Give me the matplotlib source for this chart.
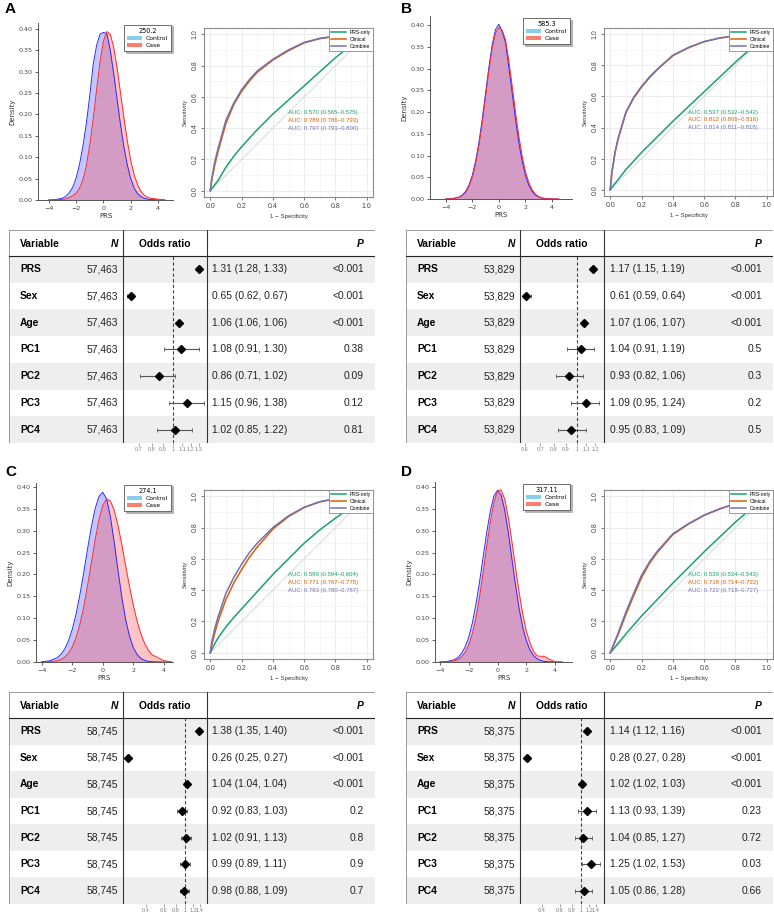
import matplotlib
matplotlib.use("Agg")
import matplotlib.pyplot as plt
import numpy as np
from matplotlib.patches import Patch
from matplotlib.ticker import FixedLocator, FixedFormatter, NullLocator, FormatStrFormatter

W, H = 774, 913

# ---------------------------------------------------------------------------
# data
# ---------------------------------------------------------------------------
PHECODES = ["250.2", "585.3", "274.1", "317.11"]

PRS_GRID = [-4, -3.5, -3, -2.75, -2.5, -2.25, -2, -1.75, -1.5, -1.25, -1, -0.75,
            -0.5, -0.25, 0, 0.25, 0.5, 0.75, 1, 1.25, 1.5, 1.75, 2, 2.25, 2.5,
            2.75, 3, 3.25, 3.5, 4, 4.5]

A_CTRL = [0.0001, 0.001, 0.0045, 0.009, 0.017, 0.030, 0.052, 0.084, 0.127, 0.180, 0.245,
          0.318, 0.362, 0.388, 0.392, 0.389, 0.350, 0.296, 0.236, 0.176, 0.124, 0.082,
          0.050, 0.028, 0.015, 0.008, 0.004, 0.002, 0.001, 0.0002, 0.0]
A_CASE = [0.0, 0.0003, 0.0012, 0.003, 0.006, 0.010, 0.016, 0.028, 0.048, 0.081, 0.130,
          0.190, 0.259, 0.323, 0.372, 0.394, 0.388, 0.357, 0.309, 0.251, 0.192, 0.138,
          0.093, 0.059, 0.036, 0.020, 0.011, 0.006, 0.004, 0.002, 0.0003]
B_CTRL = [0.0001, 0.0009, 0.0045, 0.009, 0.0175, 0.032, 0.054, 0.087, 0.130, 0.184, 0.244,
          0.303, 0.355, 0.390, 0.402, 0.385, 0.360, 0.303, 0.244, 0.184, 0.130, 0.087,
          0.054, 0.032, 0.0175, 0.009, 0.0045, 0.002, 0.0009, 0.0001, 0.0]
B_CASE = [0.0001, 0.0007, 0.0035, 0.0075, 0.015, 0.028, 0.049, 0.080, 0.122, 0.174, 0.234,
          0.294, 0.347, 0.382, 0.394, 0.388, 0.366, 0.318, 0.260, 0.200, 0.145, 0.099,
          0.063, 0.038, 0.021, 0.011, 0.0055, 0.0027, 0.0012, 0.0002, 0.0]
C_CTRL = [0.0005, 0.0025, 0.0094, 0.017, 0.029, 0.048, 0.074, 0.109, 0.153, 0.203, 0.257,
          0.308, 0.350, 0.378, 0.388, 0.373, 0.332, 0.274, 0.209, 0.148, 0.097, 0.059,
          0.033, 0.017, 0.0082, 0.0036, 0.0015, 0.0006, 0.0002, 0.0, 0.0]
C_CASE = [0.0001, 0.0005, 0.0027, 0.0055, 0.0107, 0.0195, 0.034, 0.0556, 0.086, 0.125, 0.173,
          0.226, 0.279, 0.325, 0.358, 0.3726, 0.368, 0.347, 0.312, 0.268, 0.220, 0.173,
          0.130, 0.093, 0.064, 0.042, 0.026, 0.016, 0.012, 0.003, 0.0003]
D_CTRL = [0.0002, 0.0011, 0.0053, 0.0105, 0.0196, 0.0346, 0.057, 0.0895, 0.132, 0.183, 0.240,
          0.296, 0.345, 0.379, 0.392, 0.381, 0.347, 0.295, 0.235, 0.176, 0.122, 0.080,
          0.049, 0.028, 0.015, 0.0075, 0.0035, 0.0015, 0.0006, 0.0001, 0.0]
D_CASE = [0.0001, 0.0005, 0.0028, 0.0059, 0.0117, 0.022, 0.039, 0.065, 0.101, 0.148, 0.204,
          0.264, 0.320, 0.365, 0.391, 0.393, 0.372, 0.330, 0.275, 0.216, 0.159, 0.110,
          0.071, 0.044, 0.025, 0.014, 0.013, 0.013, 0.008, 0.0005, 0.0]

MODELS = ["PRS-only", "Clinical", "Combine"]
ROC_FPR = [0, 0.01, 0.03, 0.05, 0.1, 0.15, 0.2, 0.25, 0.3, 0.4, 0.5, 0.6, 0.7, 0.8, 0.9, 1.0]

A_ROC_PRS = [0, 0.013, 0.04, 0.065, 0.15, 0.22, 0.28, 0.335, 0.39, 0.49, 0.58, 0.67, 0.76, 0.85, 0.93, 1.0]
A_ROC_CLIN = [0, 0.07, 0.17, 0.25, 0.43, 0.55, 0.635, 0.70, 0.757, 0.835, 0.895, 0.945, 0.972, 0.987, 0.996, 1.0]
A_ROC_COMB = [0, 0.08, 0.19, 0.27, 0.45, 0.56, 0.645, 0.71, 0.765, 0.84, 0.90, 0.948, 0.974, 0.988, 0.996, 1.0]
B_ROC_PRS = [0, 0.015, 0.04, 0.065, 0.13, 0.185, 0.24, 0.29, 0.34, 0.44, 0.535, 0.63, 0.725, 0.82, 0.91, 1.0]
B_ROC_CLIN = [0, 0.105, 0.235, 0.325, 0.495, 0.59, 0.66, 0.72, 0.772, 0.862, 0.913, 0.952, 0.975, 0.99, 0.997, 1.0]
B_ROC_COMB = [0, 0.11, 0.24, 0.33, 0.50, 0.595, 0.665, 0.725, 0.775, 0.865, 0.915, 0.953, 0.976, 0.99, 0.997, 1.0]
C_ROC_PRS = [0, 0.02, 0.06, 0.095, 0.165, 0.225, 0.28, 0.335, 0.39, 0.50, 0.60, 0.70, 0.785, 0.86, 0.93, 1.0]
C_ROC_CLIN = [0, 0.05, 0.13, 0.20, 0.34, 0.445, 0.53, 0.61, 0.675, 0.79, 0.87, 0.928, 0.964, 0.985, 0.995, 1.0]
C_ROC_COMB = [0, 0.07, 0.16, 0.23, 0.38, 0.48, 0.565, 0.64, 0.70, 0.80, 0.875, 0.93, 0.965, 0.985, 0.995, 1.0]
D_ROC_PRS = [0, 0.012, 0.036, 0.06, 0.12, 0.178, 0.235, 0.287, 0.34, 0.445, 0.545, 0.645, 0.74, 0.835, 0.92, 1.0]
D_ROC_CLIN = [0, 0.02, 0.07, 0.115, 0.245, 0.365, 0.48, 0.57, 0.64, 0.755, 0.822, 0.878, 0.919, 0.952, 0.98, 1.0]
D_ROC_COMB = [0, 0.025, 0.075, 0.125, 0.26, 0.38, 0.495, 0.58, 0.648, 0.76, 0.825, 0.88, 0.92, 0.953, 0.98, 1.0]

# AUC (estimate, lower, upper) for PRS-only, Clinical, Combine
A_AUC = [(0.570, 0.565, 0.575), (0.789, 0.786, 0.793), (0.797, 0.793, 0.800)]
B_AUC = [(0.537, 0.532, 0.542), (0.812, 0.809, 0.816), (0.814, 0.811, 0.818)]
C_AUC = [(0.599, 0.594, 0.604), (0.771, 0.767, 0.775), (0.783, 0.780, 0.787)]
D_AUC = [(0.539, 0.534, 0.543), (0.718, 0.714, 0.722), (0.722, 0.718, 0.727)]

VARIABLES = ["PRS", "Sex", "Age", "PC1", "PC2", "PC3", "PC4"]
A_N, B_N, C_N, D_N = 57463, 53829, 58745, 58375
A_OR = [1.31, 0.65, 1.06, 1.08, 0.86, 1.15, 1.02]
A_LO = [1.28, 0.62, 1.06, 0.91, 0.71, 0.96, 0.85]
A_HI = [1.33, 0.67, 1.06, 1.30, 1.02, 1.38, 1.22]
A_P = ["<0.001", "<0.001", "<0.001", "0.38", "0.09", "0.12", "0.81"]
B_OR = [1.17, 0.61, 1.07, 1.04, 0.93, 1.09, 0.95]
B_LO = [1.15, 0.59, 1.06, 0.91, 0.82, 0.95, 0.83]
B_HI = [1.19, 0.64, 1.07, 1.19, 1.06, 1.24, 1.09]
B_P = ["<0.001", "<0.001", "<0.001", "0.5", "0.3", "0.2", "0.5"]
C_OR = [1.38, 0.26, 1.04, 0.92, 1.02, 0.99, 0.98]
C_LO = [1.35, 0.25, 1.04, 0.83, 0.91, 0.89, 0.88]
C_HI = [1.40, 0.27, 1.04, 1.03, 1.13, 1.11, 1.09]
C_P = ["<0.001", "<0.001", "<0.001", "0.2", "0.8", "0.9", "0.7"]
D_OR = [1.14, 0.28, 1.02, 1.13, 1.04, 1.25, 1.05]
D_LO = [1.12, 0.27, 1.02, 0.93, 0.85, 1.02, 0.86]
D_HI = [1.16, 0.28, 1.03, 1.39, 1.27, 1.53, 1.28]
D_P = ["<0.001", "<0.001", "<0.001", "0.23", "0.72", "0.03", "0.66"]

A_TICKS = [0.7, 0.8, 0.9, 1, 1.1, 1.2, 1.3]
B_TICKS = [0.6, 0.7, 0.8, 0.9, 1, 1.1, 1.2]
C_TICKS = [0.4, 0.6, 0.8, 1, 1.2, 1.4]
D_TICKS = [0.4, 0.6, 0.8, 1, 1.2, 1.4]

# ---------------------------------------------------------------------------
# styling
# ---------------------------------------------------------------------------
CTRL_LINE, CASE_LINE = "#2a2aff", "#ff2a2a"
LEG_CTRL, LEG_CASE = "#87ceeb", "#fa8072"
ROC_COLORS = ["#1b9e77", "#d95f02", "#7570b3"]
STRIPE = "#eeeeee"
R_FONT = "Liberation Sans"

plt.rcParams["font.family"] = R_FONT


def px_axes(fig, box):
    l, t, r, b = box
    return fig.add_axes([l / W, 1 - b / H, (r - l) / W, (b - t) / H])


def draw_density(ax, ctrl, case, title, xlim, ytop):
    ax.fill_between(PRS_GRID, ctrl, color=CTRL_LINE, alpha=0.27, lw=0)
    ax.fill_between(PRS_GRID, case, color=CASE_LINE, alpha=0.27, lw=0)
    ax.plot(PRS_GRID, ctrl, color=CTRL_LINE, lw=0.7)
    ax.plot(PRS_GRID, case, color=CASE_LINE, lw=0.7)
    ax.set_xlim(*xlim)
    ax.set_ylim(0, ytop)
    ax.set_xticks([-4, -2, 0, 2, 4])
    ax.set_yticks(np.arange(0, 0.401, 0.05))
    ax.yaxis.set_major_formatter(FormatStrFormatter("%.2f"))
    for s in ("top", "right"):
        ax.spines[s].set_visible(False)
    for s in ("left", "bottom"):
        ax.spines[s].set_color("#555555")
        ax.spines[s].set_linewidth(0.7)
    ax.tick_params(labelsize=4.6, length=2.5, width=0.6, colors="#444444", pad=1.5)
    for lab in ax.get_xticklabels() + ax.get_yticklabels():
        lab.set_family("DejaVu Sans")
    ax.set_xlabel("PRS", fontsize=5, labelpad=1.5, color="#333333", family="DejaVu Sans")
    ax.set_ylabel("Density", fontsize=5, labelpad=2, color="#333333", family="DejaVu Sans")
    handles = [Patch(facecolor=LEG_CTRL, label="Control"), Patch(facecolor=LEG_CASE, label="Case")]
    leg = ax.legend(handles=handles, title=title, loc="upper right",
                    prop={"family": "DejaVu Sans", "size": 4.4}, title_fontsize=4.7,
                    shadow={"ox": 1.2, "oy": -1.2, "color": "#b0b0b0", "alpha": 1},
                    fancybox=False, borderaxespad=0.3, framealpha=1, borderpad=0.5,
                    handlelength=2.4, handleheight=0.6, labelspacing=0.35, handletextpad=0.7)
    leg.get_title().set_family("DejaVu Sans")
    leg.get_frame().set_edgecolor("#555555")
    leg.get_frame().set_linewidth(0.6)


def draw_roc(ax, curves, aucs):
    ax.set_xlim(-0.04, 1.04)
    ax.set_ylim(-0.04, 1.04)
    ticks = np.arange(0, 1.01, 0.2)
    ax.set_xticks(ticks)
    ax.set_yticks(ticks)
    ax.set_xticks(np.arange(0.1, 1.0, 0.2), minor=True)
    ax.set_yticks(np.arange(0.1, 1.0, 0.2), minor=True)
    ax.grid(which="major", color="#e4e4e4", lw=0.5)
    ax.grid(which="minor", color="#f0f0f0", lw=0.4)
    ax.set_axisbelow(True)
    ax.tick_params(which="minor", length=0)
    ax.tick_params(which="major", labelsize=5, length=2.5, width=0.5, colors="#444444", pad=1.5)
    ax.tick_params(axis="y", labelrotation=90)
    for lab in ax.get_yticklabels():
        lab.set_va("center")
    for s in ax.spines.values():
        s.set_color("#8a8a8a")
        s.set_linewidth(0.8)
    ax.plot([0, 1], [0, 1], color="#d2d2d2", lw=0.6)
    for name, tpr, col in zip(MODELS, curves, ROC_COLORS):
        ax.plot(ROC_FPR, tpr, color=col, lw=1.1, label=name)
    leg = ax.legend(loc="upper right", fontsize=3.6, borderaxespad=0, handlelength=3,
                    framealpha=1, fancybox=False, edgecolor="#8a8a8a", labelspacing=0.4)
    leg.get_frame().set_linewidth(0.6)
    for k, ((a, lo, hi), col) in enumerate(zip(aucs, ROC_COLORS)):
        ax.text(0.5, 0.5 - 0.05 * k, f"AUC: {a:.3f} ({lo:.3f}\u2013{hi:.3f})",
                color=col, fontsize=4.3, va="center", ha="left")
    ax.set_xlabel("1 \u2212 Specificity", fontsize=4.4, labelpad=3, color="#333333")
    ax.set_ylabel("Sensitivity", fontsize=4.2, labelpad=3, color="#333333")


def draw_table(fig, box, n, ors, los, his, ps, xlim, ticks):
    l, t, r, b = box
    w, h = r - l, b - t
    head = 26.0
    rh = (h - head) / len(VARIABLES)
    col1, col2 = 113.5, 197.5
    tab = px_axes(fig, box)
    tab.set_xlim(0, w)
    tab.set_ylim(h, 0)
    tab.axis("off")
    for i in range(len(VARIABLES)):
        if i % 2 == 0:
            tab.axhspan(head + i * rh, head + (i + 1) * rh, color=STRIPE, lw=0)
    tab.plot([0, w], [0, 0], color="#9a9a9a", lw=0.7)
    tab.plot([0, w], [h, h], color="#9a9a9a", lw=0.7)
    tab.plot([0, 0], [0, h], color="#9a9a9a", lw=0.7)
    tab.plot([w, w], [0, h], color="#9a9a9a", lw=0.7)
    tab.plot([0, w], [head, head], color="#222222", lw=0.8)
    for cx in (col1, col2):
        tab.plot([cx, cx], [0, h], color="#333333", lw=0.8)

    fs = 7.4
    tab.text(11, head / 2 + 1, "Variable", fontsize=fs, fontweight="bold", va="center")
    tab.text(col1 - 4, head / 2 + 1, "N", fontsize=fs, fontweight="bold", style="italic",
             va="center", ha="right")
    tab.text((col1 + col2) / 2, head / 2 + 1, "Odds ratio", fontsize=fs, fontweight="bold",
             va="center", ha="center")
    tab.text(w - 11, head / 2 + 1, "P", fontsize=fs, fontweight="bold", style="italic",
             va="center", ha="right")
    for i, var in enumerate(VARIABLES):
        yc = head + (i + 0.5) * rh
        tab.text(11, yc, var, fontsize=fs, fontweight="bold", va="center")
        tab.text(col1 - 4, yc, f"{n:,}", fontsize=fs, va="center", ha="right", color="#222222")
        tab.text(col2 + 6, yc, f"{ors[i]:.2f} ({los[i]:.2f}, {his[i]:.2f})", fontsize=fs,
                 va="center", ha="left", color="#222222")
        tab.text(w - 11, yc, ps[i], fontsize=fs, va="center", ha="right", color="#222222")

    fa = px_axes(fig, (l + col1, t + head, l + col2, b))
    fa.patch.set_alpha(0)
    fa.set_xscale("log")
    fa.set_xlim(*xlim)
    fa.set_ylim(len(VARIABLES), 0)
    for s in fa.spines.values():
        s.set_visible(False)
    fa.set_yticks([])
    fa.xaxis.set_major_locator(FixedLocator(ticks))
    fa.xaxis.set_major_formatter(FixedFormatter([f"{v:g}" for v in ticks]))
    fa.xaxis.set_minor_locator(NullLocator())
    fa.tick_params(axis="x", labelsize=4, length=2, width=0.5, colors="#808080", pad=1)
    fa.axvline(1, color="#444444", lw=0.8, ls=(0, (3, 2)))
    ors, los, his = np.array(ors), np.array(los), np.array(his)
    y = np.arange(len(VARIABLES)) + 0.5
    fa.errorbar(ors, y, xerr=[ors - los, his - ors], fmt="none", ecolor="#555555",
                elinewidth=0.8, capsize=1.5, capthick=0.6, clip_on=False)
    fa.plot(ors, y, "D", color="black", ms=3.8, clip_on=False)


fig = plt.figure(figsize=(W / 100, H / 100), dpi=100, facecolor="white")

PANELS = [
    dict(letter="A", lpos=(5, 9), dens=(38, 23, 173, 200), xlim=(-4.8, 5.1), ytop=0.414,
         roc=(204, 28, 373, 197), table=(9, 230, 375, 443), fxlim=(0.593, 1.41),
         ctrl=A_CTRL, case=A_CASE, curves=[A_ROC_PRS, A_ROC_CLIN, A_ROC_COMB], auc=A_AUC,
         n=A_N, ors=A_OR, lo=A_LO, hi=A_HI, p=A_P, ticks=A_TICKS, code=PHECODES[0]),
    dict(letter="B", lpos=(401, 9), dens=(430, 16, 572, 199), xlim=(-5.18, 5.5), ytop=0.421,
         roc=(604, 28, 773, 196), table=(406, 230, 773, 443), fxlim=(0.571, 1.30),
         ctrl=B_CTRL, case=B_CASE, curves=[B_ROC_PRS, B_ROC_CLIN, B_ROC_COMB], auc=B_AUC,
         n=B_N, ors=B_OR, lo=B_LO, hi=B_HI, p=B_P, ticks=B_TICKS, code=PHECODES[1]),
    dict(letter="C", lpos=(5, 472), dens=(36, 483, 173, 662), xlim=(-4.37, 4.6), ytop=0.409,
         roc=(204, 490, 373, 659), table=(9, 692, 375, 904), fxlim=(0.23, 1.64),
         ctrl=C_CTRL, case=C_CASE, curves=[C_ROC_PRS, C_ROC_CLIN, C_ROC_COMB], auc=C_AUC,
         n=C_N, ors=C_OR, lo=C_LO, hi=C_HI, p=C_P, ticks=C_TICKS, code=PHECODES[2]),
    dict(letter="D", lpos=(401, 472), dens=(435, 482, 572, 662), xlim=(-4.35, 5.18), ytop=0.411,
         roc=(604, 490, 773, 659), table=(406, 692, 773, 904), fxlim=(0.236, 1.67),
         ctrl=D_CTRL, case=D_CASE, curves=[D_ROC_PRS, D_ROC_CLIN, D_ROC_COMB], auc=D_AUC,
         n=D_N, ors=D_OR, lo=D_LO, hi=D_HI, p=D_P, ticks=D_TICKS, code=PHECODES[3]),
]

for pn in PANELS:
    fig.text(pn["lpos"][0] / W, 1 - pn["lpos"][1] / H, pn["letter"], fontsize=11,
             fontweight="bold", va="center", ha="left")
    draw_density(px_axes(fig, pn["dens"]), pn["ctrl"], pn["case"], pn["code"],
                 pn["xlim"], pn["ytop"])
    draw_roc(px_axes(fig, pn["roc"]), pn["curves"], pn["auc"])
    draw_table(fig, pn["table"], pn["n"], pn["ors"], pn["lo"], pn["hi"], pn["p"],
               pn["fxlim"], pn["ticks"])

fig.savefig("out.png", dpi=100, facecolor="white")
